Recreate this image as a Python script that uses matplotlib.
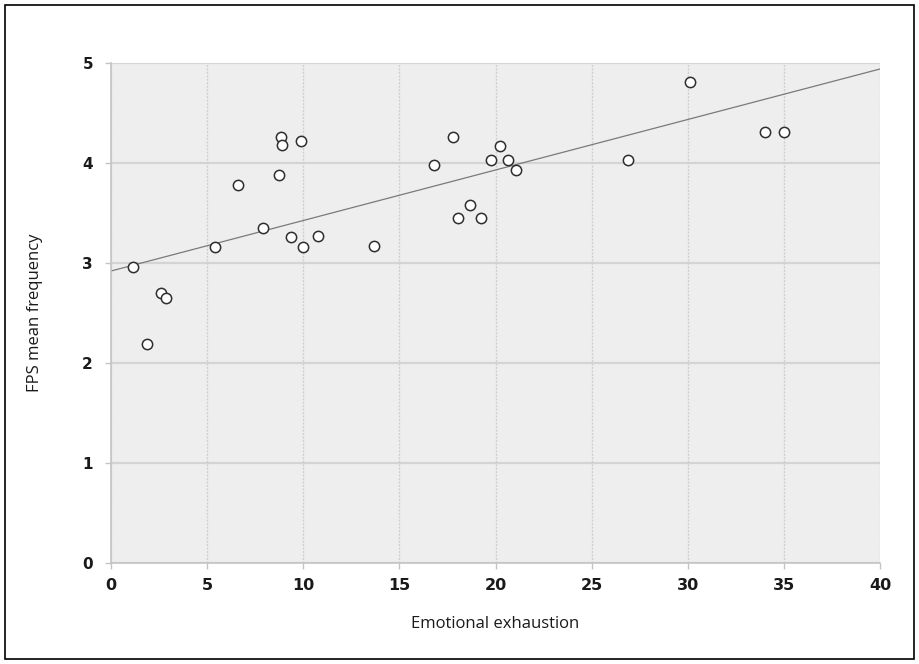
import numpy as np
import matplotlib
matplotlib.use("Agg")
import matplotlib.pyplot as plt
from matplotlib.patches import Rectangle

# Emotional exhaustion score vs. FPS mean frequency for each respondent
exhaustion = [1.13, 2.61, 2.88, 1.89, 5.41, 6.61, 7.91, 8.83, 8.87, 8.76,
              9.88, 9.37, 10.00, 10.75, 13.67, 16.78, 17.79, 18.67, 18.05,
              19.27, 19.75, 20.26, 20.66, 21.09, 26.88, 30.11, 34.01, 35.02]
fps_freq = [2.96, 2.70, 2.65, 2.19, 3.16, 3.78, 3.35, 4.26, 4.18, 3.88,
            4.22, 3.26, 3.16, 3.27, 3.17, 3.98, 4.26, 3.58, 3.45,
            3.45, 4.03, 4.17, 4.03, 3.93, 4.03, 4.81, 4.31, 4.31]

# linear trend line parameters
trend_intercept = 2.92
trend_slope = 0.0505

x_ticks = [0, 5, 10, 15, 20, 25, 30, 35, 40]
y_ticks = [0, 1, 2, 3, 4, 5]

W, H = 919, 664
fig = plt.figure(figsize=(W / 100, H / 100), dpi=100)
ax = fig.add_axes([111 / W, 1 - 563 / H, (880 - 111) / W, (563 - 63) / H])
ax.set_facecolor("#eeeeee")

# grid: solid-ish horizontals, dotted verticals
for yv in y_ticks:
    ax.axhline(yv, color="#d4d4d4", lw=1.6, zorder=1)
for xv in x_ticks:
    ax.axvline(xv, color="#cfcfcf", lw=1.0, ls=(0, (1.5, 1)), zorder=1)

xs = np.array([0, 40])
ax.plot(xs, trend_intercept + trend_slope * xs, color="#7a7a7a", lw=0.9, zorder=2)

ax.scatter(exhaustion, fps_freq, s=55, facecolor="white", edgecolor="#2e2e2e",
           linewidth=1.1, zorder=3)

ax.set_xlim(0, 40)
ax.set_ylim(0, 5)
ax.set_xticks(x_ticks)
ax.set_yticks(y_ticks)

for side in ("top", "right"):
    ax.spines[side].set_visible(False)
for side in ("left", "bottom"):
    ax.spines[side].set_color("#c4c4c4")
    ax.spines[side].set_linewidth(1.2)

ax.tick_params(axis="both", direction="out", length=4, width=1.0, color="#c4c4c4")
ax.tick_params(axis="y", pad=9)
ax.tick_params(axis="x", pad=7)
for lab in ax.get_yticklabels():
    lab.set_fontfamily("DejaVu Sans")
    lab.set_fontweight("bold")
    lab.set_fontsize(11)
    lab.set_color("#1a1a1a")
for lab in ax.get_xticklabels():
    lab.set_fontfamily(["Liberation Sans Narrow", "DejaVu Sans"])
    lab.set_fontweight("bold")
    lab.set_fontsize(11.5)
    lab.set_color("#1a1a1a")

ax.set_xlabel("Emotional exhaustion", family="Open Sans", fontsize=12,
              color="#1a1a1a", labelpad=16)
ax.set_ylabel("FPS mean frequency", family="Open Sans", fontsize=12,
              color="#1a1a1a", labelpad=28)

# outer frame
fig.patches.append(Rectangle((5 / W, 1 - 659 / H), (914 - 5) / W, (659 - 5) / H,
                             transform=fig.transFigure, fill=False,
                             edgecolor="black", lw=1.2))

fig.savefig("out.png", dpi=100)
